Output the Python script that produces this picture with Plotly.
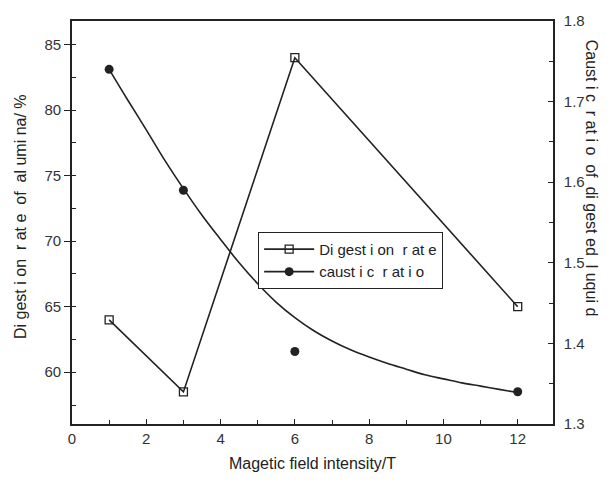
import plotly.graph_objects as go

# ---- data ----
field = [1, 3, 6, 12]
digestion_rate = [64.0, 58.5, 84.0, 65.0]
caustic_ratio = [1.74, 1.59, 1.39, 1.34]

# fitted curve for caustic ratio
fit_x = [1, 1.5, 2, 2.5, 3, 3.5, 4, 4.5, 5, 5.5, 6, 6.5, 7, 7.5, 8, 8.5, 9, 9.5, 10, 10.5, 11, 11.5, 12]
fit_y = [1.740, 1.702, 1.665, 1.627, 1.592, 1.559, 1.529, 1.500, 1.474, 1.451, 1.432, 1.416, 1.403,
         1.392, 1.383, 1.375, 1.368, 1.361, 1.356, 1.351, 1.347, 1.343, 1.339]

x_ticks = [0, 2, 4, 6, 8, 10, 12]
left_ticks = [60, 65, 70, 75, 80, 85]
right_ticks = [1.3, 1.4, 1.5, 1.6, 1.7, 1.8]

INK = "#222222"
FONT = "Liberation Sans, Arial, sans-serif"

fig = go.Figure()

fig.add_trace(go.Scatter(
    x=field, y=digestion_rate, mode="lines+markers", name="Di gest i on  r at e",
    line=dict(color=INK, width=1.6),
    marker=dict(symbol="square-open", size=8, color=INK, line=dict(width=1.3, color=INK)),
    yaxis="y"))

fig.add_trace(go.Scatter(
    x=fit_x, y=fit_y, mode="lines", line=dict(color=INK, width=1.6, shape="spline"),
    showlegend=False, yaxis="y2"))

fig.add_trace(go.Scatter(
    x=field, y=caustic_ratio, mode="markers", showlegend=False,
    marker=dict(symbol="circle", size=9, color=INK), yaxis="y2"))

# legend-only entry for caustic ratio
fig.add_trace(go.Scatter(
    x=[None], y=[None], mode="lines+markers", name="caust i c  r at i o",
    line=dict(color=INK, width=1.6),
    marker=dict(symbol="circle", size=9, color=INK), yaxis="y2"))

fig.update_layout(
    width=611, height=482,
    margin=dict(l=72, r=58, t=19, b=55),
    paper_bgcolor="white", plot_bgcolor="white",
    font=dict(family=FONT, size=15, color="#333333"),
    showlegend=True,
    legend=dict(x=0.387, y=0.406, xanchor="left", yanchor="middle",
                bgcolor="white", bordercolor=INK, borderwidth=1,
                font=dict(size=15, color="#222222"), itemwidth=50,
                tracegroupgap=0),
    xaxis=dict(range=[0, 12.95], tickvals=x_ticks, ticks="inside", ticklen=5,
               tickwidth=1.3, tickcolor=INK,
               minor=dict(dtick=1, ticks="inside", ticklen=4, tickcolor=INK),
               showline=True, linecolor=INK, linewidth=1.6, mirror=True,
               showgrid=False, zeroline=False,
               title=dict(text="Magetic field intensity/T", font=dict(size=16, color="#222222"),
                          standoff=12)),
    yaxis=dict(range=[56.05, 86.8], tickvals=left_ticks, ticks="outside", ticklen=6,
               tickwidth=1.3, tickcolor=INK,
               minor=dict(dtick=2.5, ticks="inside", ticklen=4, tickcolor=INK),
               showline=True, linecolor=INK, linewidth=1.6,
               showgrid=False, zeroline=False),
    yaxis2=dict(range=[1.3, 1.8], tickvals=right_ticks, overlaying="y", side="right",
                ticks="inside", ticklen=5, tickwidth=1.3, tickcolor=INK,
                minor=dict(dtick=0.05, ticks="inside", ticklen=4, tickcolor=INK),
                showline=True, linecolor=INK, linewidth=1.6, ticklabelstandoff=6,
                tickformat=".1f",
                showgrid=False, zeroline=False),
)

fig.add_annotation(text="Di gest i on  r at e  of  al umi na/ %", xref="paper", yref="paper",
                   x=-0.107, y=0.515, textangle=-90, showarrow=False,
                   font=dict(size=16, color="#222222"), xanchor="center", yanchor="middle")
fig.add_annotation(text="Caust i c  r at i o  of  di gest ed  l uqui d", xref="paper", yref="paper",
                   x=1.08, y=0.61, textangle=90, showarrow=False,
                   font=dict(size=16, color="#222222"), xanchor="center", yanchor="middle")

fig.write_html("out.html")
